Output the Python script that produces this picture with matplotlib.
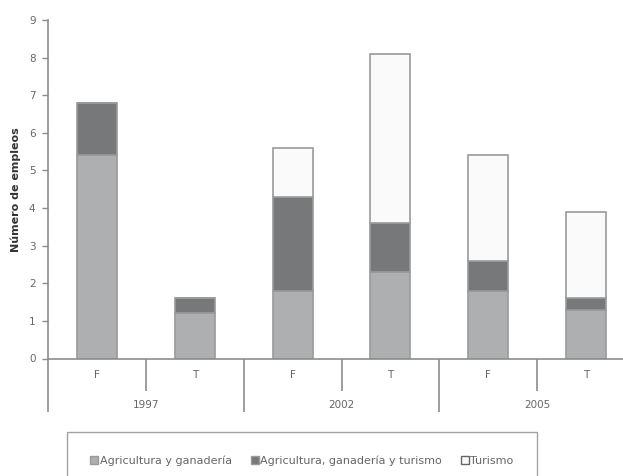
import matplotlib
matplotlib.use('Agg')
import matplotlib.pyplot as plt
from matplotlib.patches import Patch

plt.rcParams['font.family'] = ['DejaVu Sans']

# data
years = ["1997", "2002", "2005"]
kinds = ["F", "T"]
agricultura = [5.4, 1.2, 1.8, 2.3, 1.8, 1.3]
mixto = [1.4, 0.4, 2.5, 1.3, 0.8, 0.3]
turismo = [0.0, 0.0, 1.3, 4.5, 2.8, 2.3]
series_names = ["Agricultura y ganadería", "Agricultura, ganadería y turismo", "Turismo"]

col_agri = "#aeafb1"
col_mix = "#77787a"
col_tur = "#f9faf9"
edge = "#999a9c"
axis_col = "#8c8c8c"
text_col = "#666666"
fs = 7.5

fig = plt.figure(figsize=(6.23, 4.76), dpi=100)
ax = fig.add_axes([48 / 623, 117.5 / 476, 587 / 623, 338.5 / 476])

x = list(range(len(agricultura)))
w = 0.41
bottom2 = [a + m for a, m in zip(agricultura, mixto)]
ax.bar(x, agricultura, w, color=col_agri, edgecolor=edge, linewidth=1.2)
ax.bar(x, mixto, w, bottom=agricultura, color=col_mix, edgecolor=edge, linewidth=1.2)
ax.bar(x, turismo, w, bottom=bottom2, color=col_tur, edgecolor=edge, linewidth=1.2)

ax.set_xlim(-0.5, len(x) - 0.5)
ax.set_ylim(0, 9)
ax.set_yticks(range(0, 10))
ax.tick_params(axis='y', colors=axis_col, labelcolor=text_col, labelsize=fs, length=4, width=1, pad=5)

for s in ["top", "right"]:
    ax.spines[s].set_visible(False)
for s in ["left", "bottom"]:
    ax.spines[s].set_color(axis_col)
    ax.spines[s].set_linewidth(1.2)

# separators: long at group edges, short between F and T
n_groups = len(years)
ax.set_xticks([g * 2 - 0.5 for g in range(n_groups + 1)])
ax.set_xticks([g * 2 + 0.5 for g in range(n_groups)], minor=True)
ax.set_xticklabels([])
ax.tick_params(axis='x', which='major', length=38, width=1.2, colors=axis_col, direction='out')
ax.tick_params(axis='x', which='minor', length=23, width=1.2, colors=axis_col, direction='out')

trans = ax.get_xaxis_transform()
for i in x:
    ax.text(i, -17 / 338.5, kinds[i % 2], transform=trans, ha='center', va='center',
            fontsize=fs, color=text_col)
for g, yr in enumerate(years):
    ax.text(g * 2 + 0.5, -46 / 338.5, yr, transform=trans, ha='center', va='center',
            fontsize=fs, color=text_col)

ax.set_ylabel("Número de empleos", fontsize=8, fontweight='bold', color="#333333", labelpad=6)

handles = [Patch(facecolor=col_agri, edgecolor=edge),
           Patch(facecolor=col_mix, edgecolor=edge),
           Patch(facecolor=col_tur, edgecolor="#666666")]
leg = fig.legend(handles, series_names, loc='upper left',
                 bbox_to_anchor=(67 / 623, 1 - 437 / 476, 470 / 623, 0.01),
                 mode='expand', ncol=3, fontsize=8, frameon=True, fancybox=False,
                 handlelength=0.7, handleheight=0.7, handletextpad=0.15,
                 columnspacing=2.0, borderpad=2.1, borderaxespad=0)
leg.get_frame().set_edgecolor(axis_col)
leg.get_frame().set_linewidth(1.0)
for t in leg.get_texts():
    t.set_color(text_col)

fig.savefig("out.png", dpi=100)
